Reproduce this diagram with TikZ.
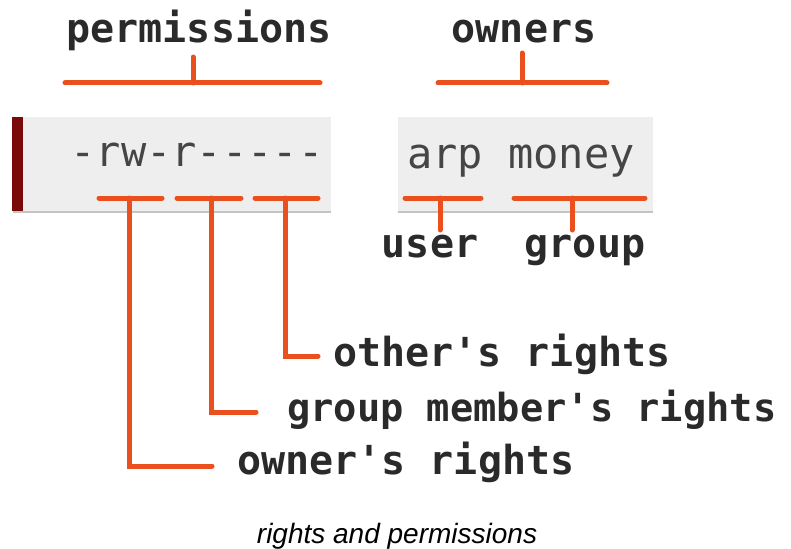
\documentclass[tikz,border=0pt]{standalone}
\usepackage{fontspec}
\setmainfont{Liberation Sans}
\newfontfamily\monofam{DejaVu Sans Mono}
\definecolor{brorange}{HTML}{E9501E}
\definecolor{boxgrey}{HTML}{EEEEEE}
\definecolor{rulegrey}{HTML}{C4C4C4}
\definecolor{barred}{HTML}{7A0A0A}
\definecolor{lbltext}{HTML}{2A2A2A}
\definecolor{codetext}{HTML}{454545}
\tikzset{
  lbl/.style={font=\monofam\bfseries\fontsize{40}{40}\selectfont, text=lbltext, inner sep=0pt, anchor=base},
  code/.style={font=\monofam\fontsize{42}{42}\selectfont, text=codetext, inner sep=0pt, anchor=base},
  br/.style={draw=brorange, line width=5pt, line cap=round},
  captext/.style={font=\itshape\fontsize{28}{28}\selectfont, text=black, inner sep=0pt, anchor=base}
}
\begin{document}
\begin{tikzpicture}[x=1pt,y=-1pt]
\useasboundingbox (0,0) rectangle (791,548);
% grey boxes
\fill[boxgrey] (13,117) rectangle (331,212);
\fill[boxgrey] (398,117) rectangle (653,212);
\draw[rulegrey, line width=1.5pt] (13,212) -- (331,212);
\draw[rulegrey, line width=1.5pt] (398,212) -- (653,212);
\fill[barred] (12,117) rectangle (23,211);
% texts
\node[lbl] (perm) at (199,43) {permissions};
\node[lbl] (owners) at (524,43) {owners};
\node[code] (mode) at (197,167) {-rw-r-----};
\node[code] (own) at (521,168) {arp money};
\node[lbl] (user) at (430,257) {user};
\node[lbl] (group) at (585,257) {group};
\node[lbl, anchor=base west] (oth) at (333,366) {other's rights};
\node[lbl, anchor=base west, font=\monofam\bfseries\fontsize{38.7}{38.7}\selectfont] (grp) at (287,421) {group member's rights};
\node[lbl, anchor=base west] (ownr) at (237,474) {owner's rights};
\node[captext] (caption) at (397,543) {rights and permissions};
% coordinates
\coordinate (pL) at (65,83); \coordinate (pR) at (320,83); \coordinate (pM) at (193,83); \coordinate (pT) at (193,57);
\coordinate (oL) at (438,83); \coordinate (oR) at (607,83); \coordinate (oM) at (522,83); \coordinate (oT) at (522,53);
\coordinate (uL) at (405,198); \coordinate (uR) at (481,198); \coordinate (uM) at (440,198); \coordinate (uB) at (440,230);
\coordinate (gL) at (514,198); \coordinate (gR) at (645,198); \coordinate (gM) at (572,198); \coordinate (gB) at (572,230);
\coordinate (aL) at (99,198); \coordinate (aR) at (162,198); \coordinate (aM) at (129,198); \coordinate (aB) at (129,466); \coordinate (aE) at (212,466);
\coordinate (bL) at (177,198); \coordinate (bR) at (241,198); \coordinate (bM) at (211,198); \coordinate (bB) at (211,412); \coordinate (bE) at (256,412);
\coordinate (cL) at (255,198); \coordinate (cR) at (318,198); \coordinate (cM) at (285,198); \coordinate (cB) at (285,356); \coordinate (cE) at (318,356);
% brackets
\draw[br] (pL) -- (pR); \draw[br] (pM) -- (pT);
\draw[br] (oL) -- (oR); \draw[br] (oM) -- (oT);
\draw[br] (uL) -- (uR); \draw[br] (uM) -- (uB);
\draw[br] (gL) -- (gR); \draw[br] (gM) -- (gB);
\draw[br] (aL) -- (aR); \draw[br] (aM) -- (aB) -- (aE);
\draw[br] (bL) -- (bR); \draw[br] (bM) -- (bB) -- (bE);
\draw[br] (cL) -- (cR); \draw[br] (cM) -- (cB) -- (cE);
\end{tikzpicture}
\end{document}
